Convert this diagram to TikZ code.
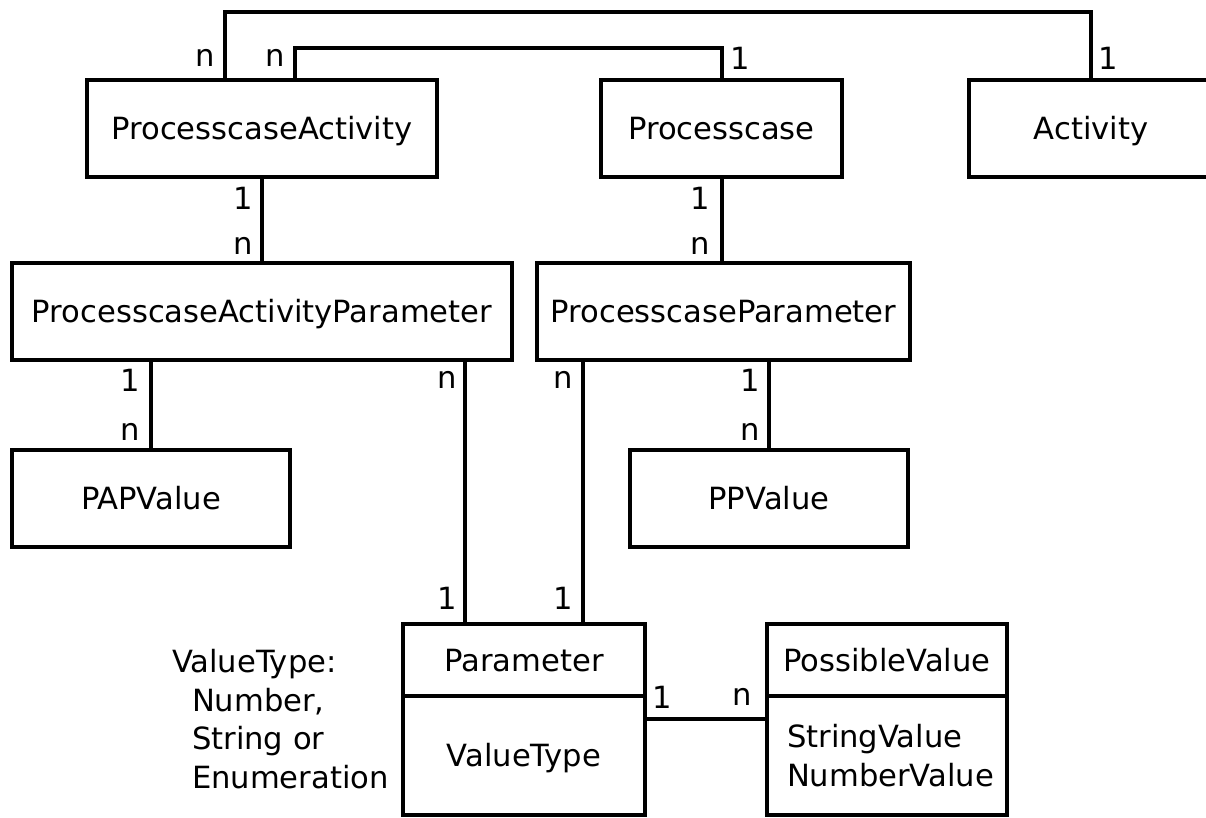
\documentclass[tikz,border=0pt]{standalone}
\usepackage{fontspec}
\setmainfont{DejaVu Sans}
\begin{document}
\begin{tikzpicture}[x=1pt,y=-1pt,
  every node/.style={font=\fontsize{30.6}{38.5}\selectfont, inner sep=0pt, outer sep=0pt},
  entity/.style={draw, line width=4pt, text height=22.3pt, text depth=0pt, minimum height=97pt},
  conn/.style={line width=4pt}]
\useasboundingbox (0,0) rectangle (1206,817);
% entities
\node[entity, minimum width=350pt] (pa) at (262,128.5) {ProcesscaseActivity};
\node[entity, minimum width=241pt] (pc) at (721.5,128.5) {Processcase};
\node[entity, minimum width=244pt] (act) at (1091,128.5) {Activity};
\node[entity, minimum width=500pt] (pap) at (262,311.5) {ProcesscaseActivityParameter};
\node[entity, minimum width=373pt] (pp) at (723.5,311.5) {ProcesscaseParameter};
\node[entity, minimum width=278pt] (papv) at (151,498.5) {PAPValue};
\node[entity, minimum width=278pt] (ppv) at (769,498.5) {PPValue};
\node[entity, minimum width=242pt, minimum height=72pt] (paramt) at (524,660) {Parameter};
\node[entity, minimum width=242pt, minimum height=119pt] (paramb) at (524,755.5) {ValueType};
\node[entity, minimum width=240pt, minimum height=72pt] (pvt) at (887,660) {PossibleValue};
\node[draw, line width=4pt, minimum width=240pt, minimum height=119pt, text width=200pt, inner xsep=20pt, align=left] (pvb) at (887,755.5) {StringValue\\NumberValue};
% annotation
\node[anchor=west, align=left] (note) at (172,719) {ValueType:\\\hspace*{20pt}Number,\\\hspace*{20pt}String or\\\hspace*{20pt}Enumeration};
% helper coordinates
\coordinate (top1) at (0,12);
\coordinate (top2) at (0,48);
\coordinate (c1) at (465,0);
\coordinate (c2) at (583,0);
\coordinate (h1) at (0,719);
% connectors
\draw[conn] ([xshift=-37pt]pa.north) |- (top1 -| act.north) -- (act.north);
\draw[conn] ([xshift=33pt]pa.north) |- (top2 -| pc.north) -- (pc.north);
\draw[conn] (pa.south) -- (pap.north);
\draw[conn] (pc.south) -- (pc.south |- pp.north);
\draw[conn] (papv.north |- pap.south) -- (papv.north);
\draw[conn] (pap.south -| c1) -- (paramt.north -| c1);
\draw[conn] (pp.south -| c2) -- (paramt.north -| c2);
\draw[conn] (ppv.north |- pp.south) -- (ppv.north);
\draw[conn] (paramb.east |- h1) -- (pvb.west |- h1);
% cardinalities
\node (l1) at (205,58) {n};
\node (l2) at (275,58) {n};
\node (l3) at (740,58) {1};
\node (l4) at (1108,58) {1};
\node (l5) at (243,198) {1};
\node (l6) at (243,246) {n};
\node (l7) at (700,198) {1};
\node (l8) at (700,246) {n};
\node (l9) at (130,380) {1};
\node (l10) at (130,432) {n};
\node (l11) at (447,380) {n};
\node (l12) at (447,598) {1};
\node (l13) at (563,380) {n};
\node (l14) at (563,598) {1};
\node (l15) at (750,380) {1};
\node (l16) at (750,432) {n};
\node (l17) at (662,697) {1};
\node (l18) at (742,697) {n};
\end{tikzpicture}
\end{document}
